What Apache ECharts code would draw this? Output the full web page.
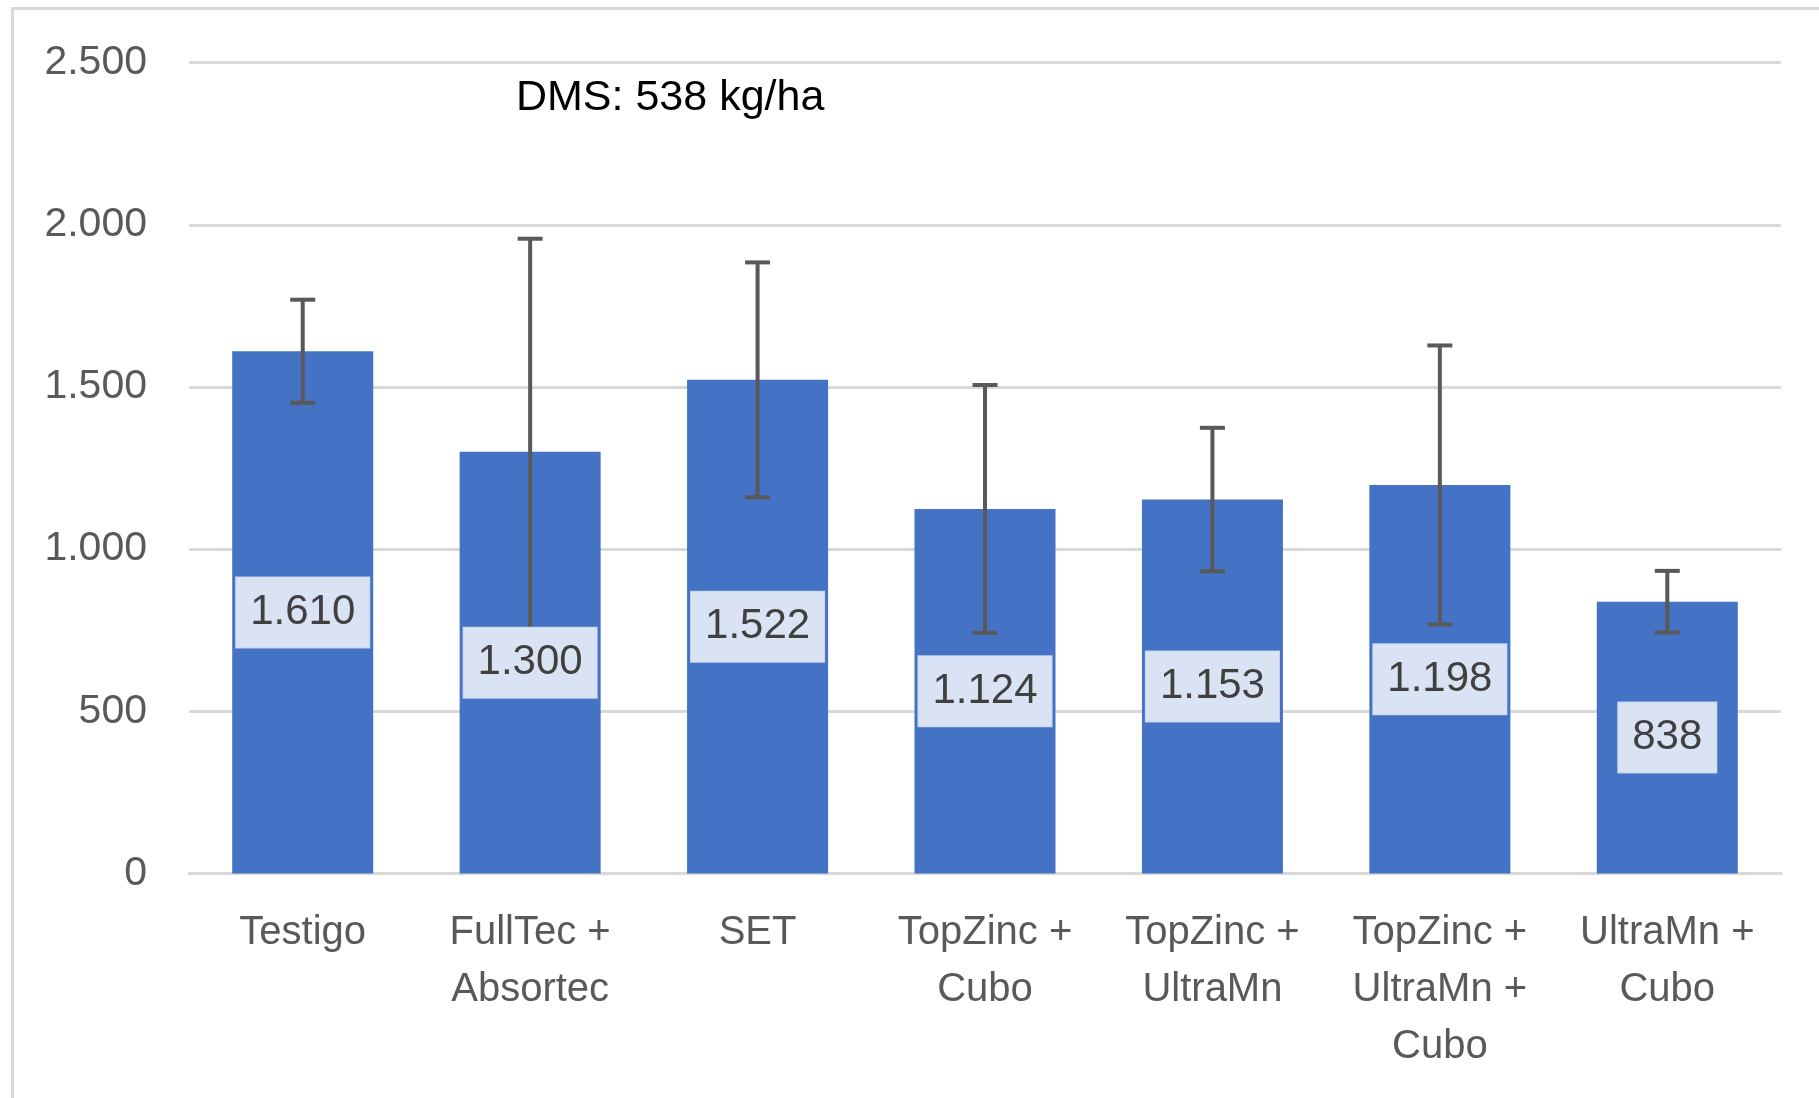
<!DOCTYPE html>
<html>
<head>
<meta charset="utf-8">
<script src="https://cdn.jsdelivr.net/npm/echarts@6/dist/echarts.min.js"></script>
<style>
html,body{margin:0;padding:0;background:#fff;}
#chart{width:1819px;height:1098px;}
</style>
</head>
<body>
<div id="chart"></div>
<script>
const categories = ['Testigo', 'FullTec +\nAbsortec', 'SET', 'TopZinc +\nCubo', 'TopZinc +\nUltraMn', 'TopZinc +\nUltraMn +\nCubo', 'UltraMn +\nCubo'];
const values = [1610, 1300, 1522, 1124, 1153, 1198, 838];
const errors = [159, 657, 362, 382, 221, 430, 95];
const yTicks = [0, 500, 1000, 1500, 2000, 2500];
const annotation = 'DMS: 538 kg/ha';

const fmt = v => String(v).replace(/\B(?=(\d{3})+(?!\d))/g, '.');
const errData = values.map((v, i) => [i, v - errors[i], v + errors[i]]);
const FONT = 'Liberation Sans';

const chart = echarts.init(document.getElementById('chart'), null, {renderer: 'canvas'});
chart.setOption({
  animation: false,
  backgroundColor: '#fff',
  grid: {left: 189, right: 38, top: 62.6, bottom: 224.5, containLabel: false},
  graphic: [
    {type: 'rect', left: 10, top: 6, z: 0, shape: {x: 0, y: 0, width: 1830, height: 1110},
     style: {fill: 'none', stroke: '#d9d9d9', lineWidth: 3}},
    {type: 'text', left: 516, top: 77, z: 10,
     style: {text: annotation, font: '43px "' + FONT + '"', fill: '#000'}}
  ],
  xAxis: {
    type: 'category', data: categories,
    axisLine: {lineStyle: {color: '#d9d9d9', width: 3}},
    axisTick: {show: false},
    axisLabel: {color: '#595959', fontFamily: FONT, fontSize: 40, lineHeight: 57, margin: 31, interval: 0}
  },
  yAxis: {
    type: 'value', min: yTicks[0], max: yTicks[yTicks.length - 1], interval: 500,
    axisLine: {show: false}, axisTick: {show: false},
    splitLine: {lineStyle: {color: '#d9d9d9', width: 3}},
    axisLabel: {color: '#595959', fontFamily: FONT, fontSize: 41, margin: 42, formatter: v => fmt(v)}
  },
  series: [
    {type: 'bar', data: values, barWidth: '62%', z: 2,
     itemStyle: {color: '#4472c4'}},
    {type: 'custom', z: 3, data: errData,
     renderItem: function (params, api) {
       const x = api.value(0);
       const lo = api.coord([x, api.value(1)]);
       const hi = api.coord([x, api.value(2)]);
       const cw = 12.5;
       const st = {stroke: '#595959', lineWidth: 4};
       return {type: 'group', children: [
         {type: 'line', shape: {x1: hi[0], y1: hi[1], x2: lo[0], y2: lo[1]}, style: st},
         {type: 'line', shape: {x1: hi[0] - cw, y1: hi[1], x2: hi[0] + cw, y2: hi[1]}, style: st},
         {type: 'line', shape: {x1: lo[0] - cw, y1: lo[1], x2: lo[0] + cw, y2: lo[1]}, style: st}
       ]};
     }},
    {type: 'bar', data: values, barWidth: '62%', barGap: '-100%', z: 4, silent: true,
     itemStyle: {color: 'rgba(0,0,0,0)'},
     label: {show: true, position: 'inside', formatter: p => fmt(p.value),
       color: '#404040', fontFamily: FONT, fontSize: 42, backgroundColor: '#dae3f3',
       borderColor: '#c5d3ec', borderWidth: 1, padding: [15, 14, 13, 14]}}
  ]
});
</script>
</body>
</html>
